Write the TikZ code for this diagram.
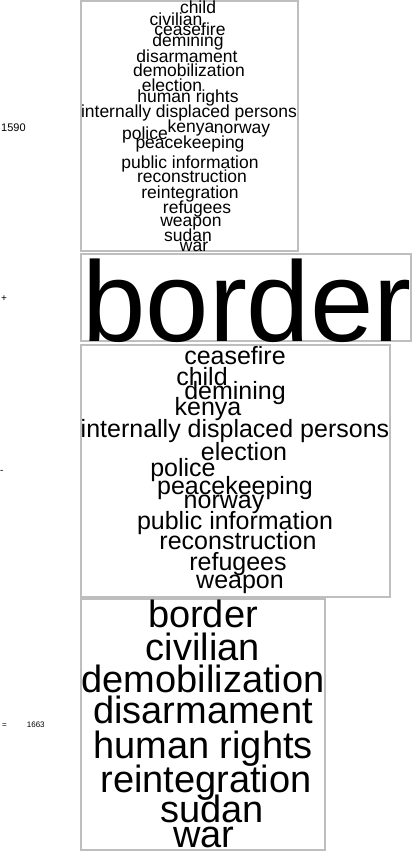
\documentclass[tikz,border=0pt]{standalone}
\usepackage{fontspec}
\setmainfont{Liberation Sans}
\usepackage{xcolor}
\definecolor{cFrame}{HTML}{BEBEBE}
\definecolor{cInk}{HTML}{000000}
\usepackage{tikz}
\tikzset{
  cloud-box/.style={draw=cFrame,line width=2pt,fill=white},
  word-small/.style={anchor=base,inner sep=0pt,text=cInk,
    font=\fontsize{17.5}{17.5}\selectfont},
  word-mid/.style={anchor=base,inner sep=0pt,text=cInk,
    font=\fontsize{25}{25}\selectfont},
  word-big/.style={anchor=base,inner sep=0pt,text=cInk,
    font=\fontsize{38}{38}\selectfont},
  word-huge/.style={anchor=base,inner sep=0pt,text=cInk,
    font=\fontsize{114}{114}\selectfont},
  side-label/.style={anchor=base west,inner sep=0pt,text=cInk,
    font=\fontsize{10}{10}\selectfont},
}

\begin{document}
\begin{tikzpicture}[x=1pt,y=-1pt]
  \useasboundingbox (0,0) rectangle (414,851);

  % row labels
  \node[side-label,font=\fontsize{11}{11}\selectfont] (lab-a) at (1,131) {1590};
  \node[side-label] (lab-plus)  at (1,301) {+};
  \node[side-label] (lab-minus) at (0,473) {-};
  \node[side-label,font=\fontsize{8}{8}\selectfont] (lab-eq) at (2,727) {=\hspace{20pt}1663};

  % first cloud
  \draw[cloud-box] (81,1) rectangle (298,251);
  \foreach \x/\y/\w [count=\i] in {
      198/14/child, 176/26/civilian, 190/36/ceasefire, 188/47/demining,
      187/63/disarmament, 189/77/demobilization, 172/91/election,
      188/102/human rights, 189/117/internally displaced persons,
      145/139/police, 191/132/kenya, 242/133/norway, 190/148/peacekeeping,
      190/168/public information, 192/182/reconstruction,
      190/198/reintegration, 197/213/refugees, 191/226/weapon,
      188/241/sudan, 194/251/war}
    \node[word-small] (a\i) at (\x,\y) {\w};

  % the single word
  \draw[cloud-box] (81,254) rectangle (411,341);
  \node[word-huge] (b1) at (247,341) {border};

  % second cloud
  \draw[cloud-box] (81,345) rectangle (390,597);
  \foreach \x/\y/\w [count=\i] in {
      235/364/ceasefire, 202/385/child, 235/399/demining, 208/415/kenya,
      235/437/internally displaced persons, 244/460/election,
      183/476/police, 235/494/peacekeeping, 224/508/norway,
      235/529/public information, 238/549/reconstruction,
      238/570/refugees, 240/588/weapon}
    \node[word-mid] (c\i) at (\x,\y) {\w};

  % result cloud
  \draw[cloud-box] (81,599) rectangle (325,850);
  \foreach \x/\y/\w [count=\i] in {
      203/627/border, 203/660/civilian, 203/692/demobilization,
      203/723/disarmament, 203/758/human rights, 206/792/reintegration,
      212/822/sudan, 204/847/war}
    \node[word-big] (d\i) at (\x,\y) {\w};
\end{tikzpicture}
\end{document}
